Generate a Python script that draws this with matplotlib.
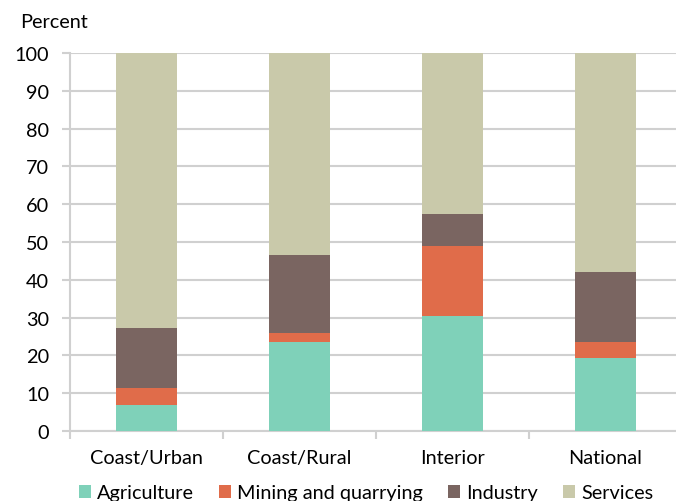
import matplotlib
matplotlib.use("Agg")
import matplotlib.pyplot as plt
import numpy as np

categories = ["Coast/Urban", "Coast/Rural", "Interior", "National"]
series_names = ["Agriculture", "Mining and quarrying", "Industry", "Services"]
agriculture = [6.9, 23.5, 30.5, 19.3]
mining = [4.5, 2.3, 18.5, 4.3]
industry = [15.8, 20.8, 8.4, 18.5]
services = [72.8, 53.4, 42.6, 57.9]
colors = ["#7fd1b9", "#e06c4a", "#7a6561", "#c9c9aa"]
yticks = list(range(0, 101, 10))

FS = 14.3
plt.rcParams['font.family'] = ['Lato', 'DejaVu Sans']
fig = plt.figure(figsize=(6.76, 5.02), dpi=100)
W, H = 676, 502
left, right, top, bottom = 70, 682, 54, 432
ax = fig.add_axes([left / W, 1 - bottom / H, (right - left) / W, (bottom - top) / H])

x = np.arange(len(categories))
bottoms = np.zeros(len(categories))
handles = []
for name, vals, c in zip(series_names, [agriculture, mining, industry, services], colors):
    b = ax.bar(x, vals, width=0.405, bottom=bottoms, color=c, label=name, zorder=3)
    handles.append(b)
    bottoms += np.array(vals)

ax.set_xlim(-0.5, len(categories) - 0.5)
ax.set_ylim(0, 100)
ax.set_yticks(yticks)
ax.set_yticklabels([str(t) for t in yticks], fontsize=FS)
ax.yaxis.grid(True, color="#d0d0d0", linewidth=1.5, zorder=0)
for s in ["top", "right", "bottom"]:
    ax.spines[s].set_visible(False)
ax.spines["left"].set_color("#d0d0d0")
ax.spines["left"].set_linewidth(1.5)
ax.tick_params(axis="y", length=6, width=1.5, color="#d0d0d0", pad=9)
ax.axhline(0, color="#d0d0d0", linewidth=1.5, zorder=1, clip_on=False)

ax.set_xticks(np.arange(-0.5, len(categories), 1.0), minor=False)
ax.set_xticklabels([])
ax.tick_params(axis="x", length=6, width=1.5, color="#d0d0d0")
for i, cat in enumerate(categories):
    ax.text(i, -7.0, cat, ha="center", va="center", fontsize=FS, transform=ax.transData)

fig.text(20 / W, 1 - 22 / H, "Percent", fontsize=FS, ha="left", va="center")

leg = fig.legend(handles=handles, labels=series_names, loc="center", bbox_to_anchor=(366 / W, 1 - 494 / H),
                 ncol=4, frameon=False, fontsize=FS, handlelength=0.62, handleheight=0.62,
                 handletextpad=0.3, columnspacing=1.25, borderaxespad=0, borderpad=0)

fig.savefig("out.png", dpi=100)
